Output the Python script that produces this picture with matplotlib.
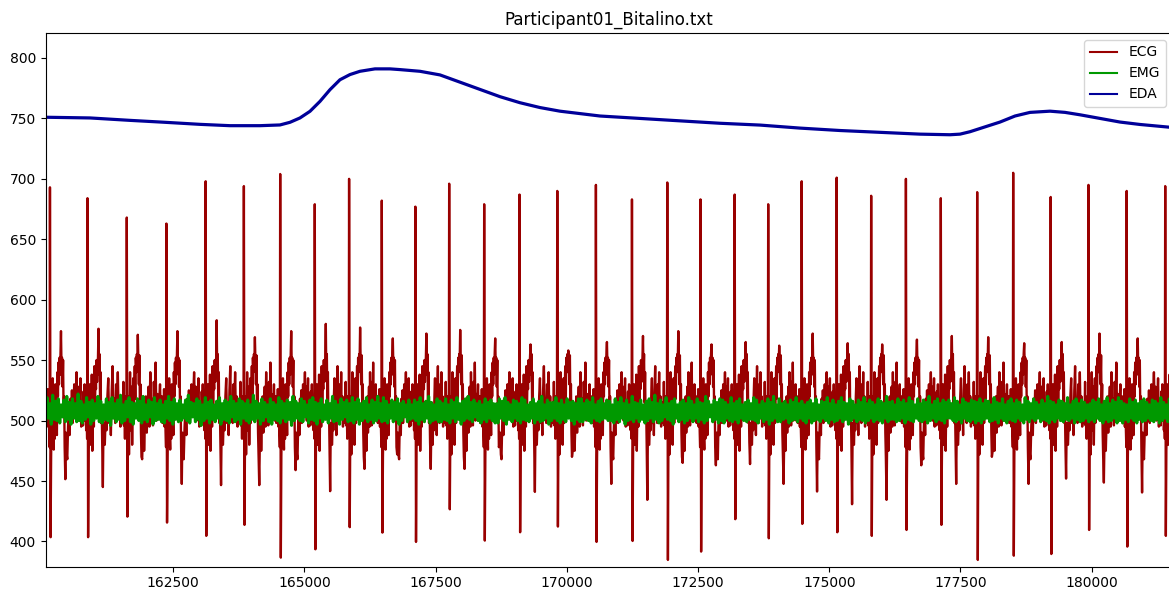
#!/usr/bin/env python3
"""
Bitalino recording of Participant01: ECG, EMG and EDA channels on one axis.
"""

from __future__ import annotations

import matplotlib

matplotlib.use("Agg")
import matplotlib.pyplot as plt
import numpy as np

TITLE = "Participant01_Bitalino.txt"

# ECG beats: R time, R peak, S trough, T bump, post-T dip
r_times = [160150, 160865, 161614, 162369, 163117, 163845, 164537, 165196, 165850, 166473,
           167113, 167757, 168424, 169097, 169817, 170553, 171240, 171913, 172546, 173197,
           173836, 174474, 175141, 175798, 176460, 177125, 177818, 178504, 179219, 179939,
           180667, 181401]
r_peaks = [693, 684, 668, 663, 698, 694, 704, 679, 700, 682, 677, 696, 679, 687, 690, 695,
           683, 697, 683, 687, 679, 698, 701, 686, 700, 684, 689, 705, 685, 695, 690, 694]
s_troughs = [403.5, 403.5, 420.5, 415.6, 404.6, 413.7, 386.6, 393.5, 411.8, 407.3, 399.6,
             426.6, 400.7, 407.6, 412.3, 399.6, 400.4, 384.7, 391.6, 418.4, 402.6, 414.5,
             407.6, 404.6, 409.5, 413.7, 384.7, 388.2, 389.6, 409.5, 395.7, 404.6]
t_peaks = [574, 576, 571, 574, 583, 569, 574, 580, 577, 568, 572, 575, 568, 563, 558, 565,
           570, 574, 563, 565, 562, 572, 564, 563, 567, 570, 569, 564, 565, 572, 568, 565]
t_dips = [451.5, 445, 468, 447.6, 446.6, 446.6, 459, 441.6, 460, 472, 460, 460, 480, 441,
          475, 447.6, 434.4, 465, 463, 464, 447.6, 441.3, 430.8, 434.4, 463, 447.6, 474,
          447.6, 452, 448.7, 440.5, 450]

# beat shape around R (offsets in samples); 0 marks the R, S, T and dip slots
beat_offsets = [-95, -85, -75, -65, -55, -45, -35, -25, -15, -7,
                0, 12,
                22, 32, 42, 52, 62, 72, 82, 92, 102, 112, 122, 132, 142, 152, 162, 172, 182, 192, 200,
                210,
                220, 230, 240, 250, 260, 270, 280,
                293,
                305, 318]
R_SLOT, S_SLOT, T_SLOT, D_SLOT = 10, 11, 31, 39
beat_shapes = [
    [505, 520, 498, 515, 502, 526, 495, 510, 490, 478, 0, 0,
     470, 505, 482, 535, 490, 476, 522, 485, 530, 495, 510, 488, 540, 520, 548, 530, 552, 538, 555,
     0, 545, 552, 528, 550, 505, 520, 478, 0, 490, 472],
    [512, 496, 524, 505, 530, 500, 518, 492, 508, 485, 0, 0,
     476, 498, 530, 480, 512, 492, 538, 475, 505, 520, 495, 545, 510, 535, 526, 550, 532, 548, 552,
     0, 538, 555, 515, 540, 498, 512, 482, 0, 498, 480],
    [498, 515, 503, 532, 496, 512, 485, 520, 500, 487, 0, 0,
     488, 520, 472, 510, 540, 492, 500, 528, 480, 515, 535, 498, 525, 545, 518, 552, 540, 555, 548,
     0, 550, 530, 554, 512, 530, 490, 470, 0, 485, 505],
]
# noisy stretch between the post-T dip and the next beat
fillers = [
    [468, 495, 510, 488, 518, 500, 525, 498, 512, 530, 505, 520, 540, 508, 528, 500, 515, 535, 495, 512],
    [480, 505, 492, 520, 535, 498, 510, 488, 525, 545, 505, 518, 498, 530, 512, 540, 502, 520, 495, 508],
    [475, 500, 520, 490, 512, 528, 495, 540, 505, 518, 496, 532, 510, 548, 500, 522, 505, 515, 530, 500],
]

# EDA trace
eda_x = [160040, 160913, 161675, 162342, 163009, 163580, 164152, 164533, 164724, 164914,
         165105, 165295, 165486, 165676, 165867, 166057, 166343, 166629, 166820, 167201,
         167582, 167963, 168344, 168725, 169106, 169487, 169868, 170250, 170631, 171393,
         172155, 172917, 173680, 174442, 175204, 175966, 176728, 177300, 177491, 177681,
         177967, 178253, 178539, 178825, 179206, 179492, 179778, 180159, 180540, 180921,
         181540]
eda_y = [751, 750.4, 748.4, 746.8, 745.1, 744, 744, 744.6, 746.8, 750.4,
         755.9, 764.1, 773.8, 782, 786.3, 789, 791, 791, 790.4, 789,
         786, 780, 774, 768, 763, 759, 756, 754, 752, 750,
         748, 746, 744.5, 742, 740, 738.5, 737, 736.5, 737, 739,
         743, 747, 752, 755, 756, 755, 753, 750, 747, 745,
         742.5]

# EMG: dense band around 508, first and second half of the recording
emg_early = [
    515, 499, 519, 502, 514, 497, 521, 501, 516, 500, 518, 498, 513, 503, 517, 499, 520, 501, 515, 497,
    518, 502, 514, 499, 522, 500, 516, 498, 513, 501, 519, 503, 515, 497, 517, 500, 514, 502, 520, 499,
    516, 498, 513, 501, 518, 500, 515, 496, 519, 502, 514, 499, 517, 501, 521, 498, 513, 500, 516, 503,
    519, 499, 515, 497, 514, 502, 518, 500, 516, 498, 520, 501, 513, 499, 517, 503, 515, 497, 519, 500,
    514, 501, 517, 499, 513, 498, 516, 502, 520, 500, 515, 497, 518, 501, 514, 499, 517, 500, 513, 502,
    517, 500, 521, 498, 515, 503, 514, 499, 518, 501, 516, 496, 513, 500, 519, 502, 515, 498, 517, 501,
    513, 499, 516, 502, 519, 497, 514, 501, 517, 500, 515, 498, 520, 503, 516, 499, 514, 501, 518, 497,
    516, 502, 514, 500, 517, 498, 513, 501, 521, 499, 516, 502, 514, 497, 518, 500, 515, 503, 513, 499,
    518, 497, 515, 501, 513, 500, 519, 498, 516, 502, 514, 499, 517, 501, 515, 496, 520, 500, 516, 502,
    514, 500, 518, 499, 516, 503, 513, 498, 517, 501, 519, 500, 515, 497, 514, 502, 518, 499, 513, 501,
    517, 498, 514, 502, 520, 499, 516, 500, 513, 497, 518, 501, 515, 503, 517, 499, 514, 500, 519, 498,
    515, 501, 518, 497, 514, 500, 516, 502, 519, 499, 513, 501, 517, 498, 515, 500, 520, 502, 514, 499,
    519, 500, 516, 498, 513, 502, 517, 499, 515, 501, 518, 497, 514, 500, 516, 503, 513, 499, 517, 501,
    513, 502, 517, 500, 515, 497, 519, 501, 514, 499, 516, 502, 520, 498, 515, 500, 513, 501, 518, 499,
    516, 499, 514, 501, 518, 500, 513, 498, 517, 502, 515, 499, 519, 501, 514, 497, 516, 500, 518, 502,
    520, 501, 515, 499, 517, 503, 514, 500, 516, 498, 513, 501, 518, 499, 515, 502, 517, 500, 514, 498,
    514, 498, 518, 502, 516, 500, 519, 497, 515, 501, 513, 499, 517, 502, 516, 500, 514, 498, 519, 501,
    517, 500, 513, 499, 515, 502, 518, 498, 514, 501, 516, 499, 520, 500, 513, 502, 517, 497, 515, 500,
    515, 502, 519, 500, 514, 498, 517, 501, 513, 499, 518, 502, 515, 500, 516, 497, 514, 501, 518, 499,
    518, 499, 514, 501, 517, 500, 515, 498, 519, 502, 513, 500, 516, 499, 518, 501, 514, 502, 517, 500,
]
emg_late = [
    516, 500, 513, 498, 518, 501, 515, 499, 519, 502, 514, 497, 517, 500, 513, 501, 520, 499, 515, 502,
    514, 499, 517, 501, 513, 498, 516, 500, 518, 502, 515, 499, 521, 501, 514, 498, 517, 500, 513, 503,
    519, 501, 514, 500, 516, 497, 518, 502, 513, 499, 515, 501, 517, 498, 514, 500, 519, 502, 516, 499,
    513, 502, 518, 499, 515, 501, 514, 498, 520, 500, 516, 503, 513, 499, 517, 501, 515, 498, 518, 500,
    517, 498, 515, 502, 513, 500, 519, 499, 514, 501, 516, 498, 518, 502, 513, 500, 515, 499, 517, 501,
    514, 501, 519, 500, 517, 498, 513, 502, 516, 499, 514, 501, 518, 497, 515, 500, 520, 502, 513, 499,
    518, 499, 514, 501, 516, 502, 513, 498, 517, 500, 515, 501, 519, 499, 514, 502, 516, 500, 513, 498,
    515, 502, 517, 498, 514, 500, 518, 501, 513, 499, 516, 502, 515, 500, 519, 498, 514, 501, 517, 499,
    513, 500, 516, 502, 519, 499, 515, 501, 514, 497, 518, 500, 516, 502, 513, 499, 517, 501, 515, 500,
    519, 498, 514, 500, 517, 502, 515, 499, 513, 501, 518, 500, 516, 498, 514, 502, 520, 499, 515, 501,
    516, 501, 513, 499, 518, 500, 515, 502, 517, 498, 514, 501, 519, 500, 516, 499, 513, 502, 518, 500,
    514, 499, 517, 501, 515, 498, 520, 500, 513, 502, 516, 499, 518, 501, 514, 500, 517, 498, 515, 502,
    517, 502, 514, 500, 519, 499, 516, 501, 513, 498, 518, 502, 515, 500, 514, 499, 517, 501, 516, 498,
    515, 500, 518, 498, 514, 501, 517, 502, 516, 499, 513, 500, 519, 501, 515, 498, 514, 502, 518, 500,
    513, 498, 516, 501, 518, 500, 514, 499, 517, 502, 515, 500, 513, 498, 519, 501, 516, 499, 514, 502,
    518, 500, 515, 502, 513, 499, 517, 501, 514, 500, 520, 498, 516, 501, 515, 499, 513, 502, 517, 500,
    516, 499, 514, 501, 519, 500, 513, 502, 516, 498, 518, 501, 514, 499, 517, 500, 515, 502, 513, 499,
    514, 501, 517, 499, 515, 502, 518, 500, 513, 498, 516, 501, 519, 499, 514, 500, 517, 502, 515, 498,
    519, 500, 516, 498, 514, 501, 513, 499, 518, 502, 515, 500, 517, 498, 514, 501, 516, 499, 518, 500,
    515, 502, 513, 500, 517, 499, 516, 501, 514, 498, 519, 500, 515, 502, 513, 499, 518, 501, 516, 500,
]

ECG_COLOR = "#990000"
EMG_COLOR = "#009900"
EDA_COLOR = "#000099"


def build_ecg() -> tuple[np.ndarray, np.ndarray]:
    xs: list[float] = []
    ys: list[float] = []
    offs = np.array(beat_offsets, dtype=float)
    for i, r in enumerate(r_times):
        shape = list(beat_shapes[i % len(beat_shapes)])
        shape[R_SLOT] = r_peaks[i]
        shape[S_SLOT] = s_troughs[i]
        shape[T_SLOT] = t_peaks[i]
        shape[D_SLOT] = t_dips[i]
        xs.extend(r + offs)
        ys.extend(shape)
        nxt = r_times[i + 1] if i + 1 < len(r_times) else r + 720
        filler = fillers[i % len(fillers)]
        xs.extend(np.linspace(r + 330, nxt - 105, len(filler)))
        ys.extend(filler)
    return np.array(xs), np.array(ys)


def main() -> None:
    fig = plt.figure(figsize=(11.69, 5.90), dpi=100)
    ax = fig.add_axes([0.0391, 0.0395, 0.9639, 0.9046])

    ecg_x, ecg_y = build_ecg()
    emg_y = emg_early + emg_late
    emg_x = np.linspace(160040, 181560, len(emg_y))

    ax.plot(ecg_x, ecg_y, color=ECG_COLOR, linewidth=1.7, label="ECG")
    ax.plot(emg_x, emg_y, color=EMG_COLOR, linewidth=2.2, label="EMG")
    ax.plot(eda_x, eda_y, color=EDA_COLOR, linewidth=2.3, label="EDA")

    ax.set_xlim(160069, 181540)
    ax.set_ylim(379.1, 820.7)
    ax.set_xticks([162500, 165000, 167500, 170000, 172500, 175000, 177500, 180000])
    ax.set_yticks([400, 450, 500, 550, 600, 650, 700, 750, 800])
    ax.set_title(TITLE, fontsize=12)
    leg = ax.legend(loc="upper right", fontsize=10)
    for h in leg.get_lines():
        h.set_linewidth(1.5)

    fig.savefig("out.png", dpi=100)
    plt.close(fig)


if __name__ == "__main__":
    main()
